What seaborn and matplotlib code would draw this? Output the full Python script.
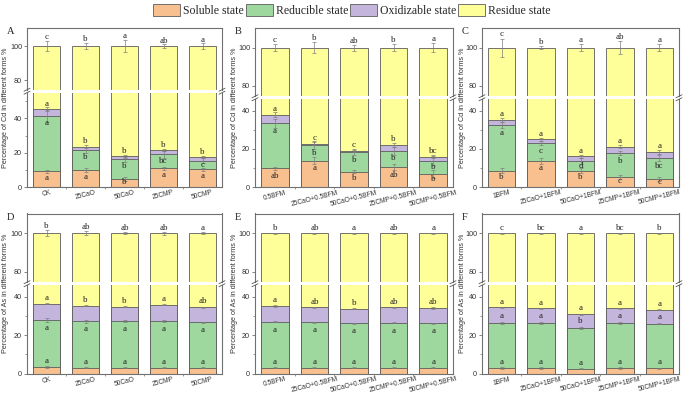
import numpy as np
import matplotlib
matplotlib.use("Agg")
import matplotlib.pyplot as plt
import seaborn as sns
from matplotlib.patches import Patch
from matplotlib.lines import Line2D

# --------------------------------------------------------------------------- #
# Dados: fração de cada forma (%) por tratamento
# --------------------------------------------------------------------------- #
cats_ctrl = ["CK", "25CaO", "50CaO", "25CMP", "50CMP"]
cats_half = ["0.5BFM", "25CaO+0.5BFM", "50CaO+0.5BFM", "25CMP+0.5BFM", "50CMP+0.5BFM"]
cats_one = ["1BFM", "25CaO+1BFM", "50CaO+1BFM", "25CMP+1BFM", "50CMP+1BFM"]

# Cd
a_sol = [9.2, 9.9, 4.5, 10.9, 10.3]
a_red = [32.1, 11.7, 11.7, 8.2, 5.1]
a_oxi = [4.1, 2.0, 1.7, 2.5, 2.1]
b_sol = [9.8, 13.8, 8.1, 10.5, 6.9]
b_red = [23.5, 8.1, 10.0, 8.5, 6.9]
b_oxi = [4.7, 0.9, 1.0, 3.0, 2.1]
c_sol = [8.6, 13.8, 8.6, 5.2, 4.3]
c_red = [23.8, 9.1, 5.2, 12.6, 10.9]
c_oxi = [2.9, 2.1, 2.2, 3.4, 3.2]
# As
d_sol = [3.4, 3.1, 3.1, 3.1, 3.1]
d_red = [24.3, 24.1, 24.1, 24.1, 23.5]
d_oxi = [8.6, 8.2, 7.7, 8.7, 8.0]
e_sol = [3.1, 3.1, 3.1, 3.1, 3.1]
e_red = [23.8, 23.5, 23.1, 23.3, 23.1]
e_oxi = [8.3, 7.9, 7.6, 8.0, 7.9]
f_sol = [2.9, 2.9, 2.6, 2.9, 2.8]
f_red = [23.3, 23.3, 21.0, 23.3, 23.2]
f_oxi = [8.2, 7.7, 7.3, 7.7, 7.3]

# desvios (barras de erro) no topo de cada fração acumulada
a_err = {"sol": [0.8, 1.0, 1.2, 1.0, 0.8], "red": [3.5, 1.5, 1.5, 2.0, 1.5],
         "oxi": [1.0, 0.8, 0.8, 0.6, 0.8], "res": [3.0, 2.0, 3.5, 1.0, 1.5]}
b_err = {"sol": [0.8, 2.0, 1.0, 1.5, 2.0], "red": [2.5, 2.0, 1.5, 2.0, 2.5],
         "oxi": [1.2, 0.8, 0.8, 1.0, 0.8], "res": [2.0, 3.0, 1.5, 2.0, 2.5]}
c_err = {"sol": [1.5, 1.5, 1.2, 1.0, 1.0], "red": [1.5, 1.0, 1.5, 1.0, 1.5],
         "oxi": [1.0, 0.8, 0.8, 1.0, 1.0], "res": [4.7, 0.6, 2.0, 3.5, 2.0]}
d_err = {"sol": [0.3] * 5, "red": [1.0, 0.8, 0.5, 0.5, 0.4],
         "oxi": [0.3] * 5, "res": [1.5, 1.0, 0.5, 0.8, 0.5]}
e_err = {"sol": [0.3] * 5, "red": [0.3] * 5, "oxi": [0.3] * 5, "res": [0.3] * 5}
f_err = {"sol": [0.3] * 5, "red": [0.4, 0.4, 0.5, 0.4, 0.4], "oxi": [0.3] * 5, "res": [0.3] * 5}

# letras de significância
a_let = {"res": ["c", "b", "a", "ab", "a"], "oxi": ["a", "b", "b", "b", "b"],
         "red": ["a", "b", "b", "bc", "c"], "sol": ["a", "a", "b", "a", "a"]}
b_let = {"res": ["c", "b", "ab", "b", "a"], "oxi": ["a", "c", "c", "b", "bc"],
         "red": ["a", "b", "b", "b", "b"], "sol": ["ab", "a", "b", "ab", "b"]}
c_let = {"res": ["c", "b", "a", "ab", "a"], "oxi": ["a", "a", "a", "a", "a"],
         "red": ["a", "c", "d", "b", "bc"], "sol": ["b", "a", "b", "c", "c"]}
d_let = {"res": ["b", "ab", "ab", "ab", "a"], "oxi": ["a", "b", "b", "a", "ab"],
         "red": ["a"] * 5, "sol": ["a"] * 5}
e_let = {"res": ["b", "ab", "a", "ab", "a"], "oxi": ["a", "ab", "b", "ab", "ab"],
         "red": ["a"] * 5, "sol": ["a"] * 5}
f_let = {"res": ["c", "bc", "a", "bc", "b"], "oxi": ["a"] * 5,
         "red": ["a", "a", "b", "a", "a"], "sol": ["a"] * 5}

LEGEND_LABELS = ["Soluble state", "Reducible state", "Oxidizable state", "Residue state"]
COLORS = {"sol": "#F8C08E", "red": "#9FD89F", "oxi": "#C4B5DD", "res": "#FFFF99"}
EDGE = "#5c5c5c"
SERIF = ["Liberation Serif", "DejaVu Serif"]

W, H = 685, 393
COL_LEFT = [27, 255, 482]
COL_W = [195, 198, 197]
ROW_TOP = [28, 213.5]
ROW_BOT = [187, 373.5]
YLAB_X = [6, 234, 462]
GAP = 3


def draw_panel(idx, tag, metal, cats, sol, red, oxi, err, let, up_lim, lo_lim, as_mode=False):
    row, col = divmod(idx, 3)
    left, width = COL_LEFT[col], COL_W[col]
    top, bot = ROW_TOP[row], ROW_BOT[row]
    span = (up_lim[1] - up_lim[0]) + (lo_lim[1] - lo_lim[0])
    h_tot = bot - top - GAP
    h_up = h_tot * (up_lim[1] - up_lim[0]) / span
    h_lo = h_tot - h_up

    ax_up = fig.add_axes([left / W, 1 - (top + h_up) / H, width / W, h_up / H])
    ax_lo = fig.add_axes([left / W, 1 - bot / H, width / W, h_lo / H])

    sol = np.array(sol)
    red_top = sol + np.array(red)
    oxi_top = red_top + np.array(oxi)
    x = np.arange(len(cats))

    for ax in (ax_up, ax_lo):
        for vals, key in ((np.full(len(cats), 100.0), "res"), (oxi_top, "oxi"),
                          (red_top, "red"), (sol, "sol")):
            sns.barplot(x=cats, y=vals, color=COLORS[key], saturation=1, width=0.7,
                        edgecolor=EDGE, linewidth=0.6, errorbar=None, ax=ax)
        for tops, key in ((np.full(len(cats), 100.0), "res"), (oxi_top, "oxi"),
                          (red_top, "red"), (sol, "sol")):
            ax.errorbar(x, tops, yerr=err[key], fmt="none", ecolor="#7f7f7f",
                        elinewidth=0.5, capsize=1.5, capthick=0.5, zorder=5)
        ax.set_xlim(-0.5, len(cats) - 0.5)
        ax.set_xlabel("")
        ax.set_ylabel("")
        for s in ax.spines.values():
            s.set_color("#707070")
            s.set_linewidth(0.8)
        ax.tick_params(axis="y", labelsize=5.2, length=2, width=0.6, pad=1.5,
                       color="#707070", labelcolor="#333333")

    ax_up.set_ylim(*up_lim)
    ax_lo.set_ylim(*lo_lim)
    ax_up.spines["bottom"].set_visible(False)
    ax_lo.spines["top"].set_visible(False)
    ax_up.set_yticks([80, 100])
    ax_lo.set_yticks([0, 20, 40])
    ax_lo.set_yticks(np.arange(10, lo_lim[1], 20), minor=True)
    ax_lo.tick_params(axis="y", which="minor", length=1.5, width=0.5, color="#707070")
    ax_up.tick_params(axis="x", bottom=False, labelbottom=False)
    ax_lo.set_xticks(x)
    ax_lo.set_xticks(x[:-1] + 0.5, minor=True)
    ax_lo.tick_params(axis="x", which="major", direction="in", length=2, width=0.5,
                      color="#707070", pad=1.5)
    ax_lo.tick_params(axis="x", which="minor", direction="out", length=1.5, width=0.5,
                      color="#707070")
    ax_lo.set_xticklabels(cats, rotation=14, fontsize=4.8, color="#333333",
                          ha="center", rotation_mode="default")

    # letras
    tkw = dict(ha="center", va="center", fontsize=6.5, family=SERIF, color="#222222", zorder=6)
    for i in x:
        ax_up.text(i, 100 + max(err["res"][i], 0.6) + 2.2, let["res"][i], **tkw)
        ax_lo.text(i, oxi_top[i] + 3.0, let["oxi"][i], **tkw)
        if idx == 5:
            y_red = red_top[i] + 3.5
        else:
            y_red = max(red_top[i] - 4.0, (sol[i] + red_top[i]) / 2)
        ax_lo.text(i, y_red, let["red"][i], **tkw)
        y_sol = sol[i] + 3.0 if as_mode else max(sol[i] - 4.0, sol[i] / 2 + 0.7)
        ax_lo.text(i, y_sol, let["sol"][i], **tkw)

    # marcas de quebra "//"
    y_gap_top = top + h_up
    y_gap_bot = top + h_up + GAP
    for xe in (left, left + width):
        for ye in (y_gap_top, y_gap_bot):
            fig.add_artist(Line2D([(xe - 3) / W, (xe + 3) / W],
                                  [1 - (ye + 1.5) / H, 1 - (ye - 1.5) / H],
                                  color="#555555", lw=0.6, transform=fig.transFigure))

    fig.text(YLAB_X[col] / W, 1 - (top + bot) / 2 / H,
             f"Percentage of {metal} in different forms %", rotation=90,
             ha="center", va="center", fontsize=5.2, color="#333333")
    fig.text((left - 20) / W, 1 - (top + 4) / H, tag, ha="left", va="center",
             fontsize=7.5, family=SERIF, color="#222222")


sns.set_theme(style="ticks")
plt.rcParams["font.family"] = ["Liberation Sans", "DejaVu Sans"]

fig = plt.figure(figsize=(W / 100, H / 100), dpi=100)

CD_UP_A, CD_LO_A = (74.5, 110.5), (0, 55)
UP, LO = (74.5, 110.3), (0, 46)

draw_panel(0, "A", "Cd", cats_ctrl, a_sol, a_red, a_oxi, a_err, a_let, CD_UP_A, CD_LO_A)
draw_panel(1, "B", "Cd", cats_half, b_sol, b_red, b_oxi, b_err, b_let, UP, LO)
draw_panel(2, "C", "Cd", cats_one, c_sol, c_red, c_oxi, c_err, c_let, UP, LO)
draw_panel(3, "D", "As", cats_ctrl, d_sol, d_red, d_oxi, d_err, d_let, UP, LO, as_mode=True)
draw_panel(4, "E", "As", cats_half, e_sol, e_red, e_oxi, e_err, e_let, UP, LO, as_mode=True)
draw_panel(5, "F", "As", cats_one, f_sol, f_red, f_oxi, f_err, f_let, UP, LO, as_mode=True)

handles = [Patch(facecolor=COLORS[k], edgecolor=EDGE, linewidth=0.6)
           for k in ("sol", "red", "oxi", "res")]
fig.legend(handles=handles, labels=LEGEND_LABELS, loc="upper center",
           bbox_to_anchor=(352 / W, 1.005), ncol=4, frameon=False,
           prop={"family": SERIF, "size": 8.5}, handlelength=2.3, handleheight=1.25,
           columnspacing=0.15, handletextpad=0.25, borderaxespad=0.1)

fig.savefig("out.png", dpi=100)
